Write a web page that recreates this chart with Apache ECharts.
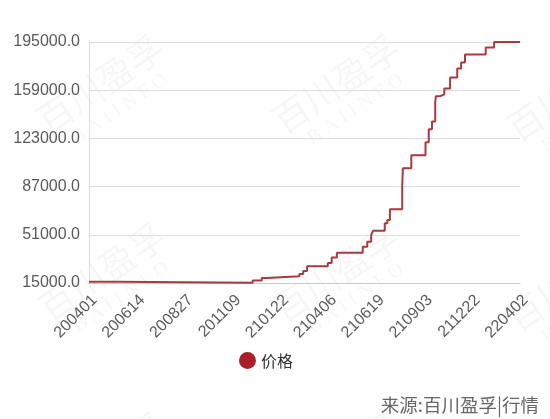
<!DOCTYPE html>
<html>
<head>
<meta charset="utf-8">
<script src="https://cdn.jsdelivr.net/npm/echarts@6/dist/echarts.min.js"></script>
<style>
html,body{margin:0;padding:0;background:#fff;}
#c{width:550px;height:419px;}
</style>
</head>
<body>
<div id="c"></div>
<script>
// x tick labels (dates, YYMMDD) shown every 74 trading-day positions
const tickLabels = ['200401','200614','200827','201109','210122','210406','210619','210903','211222','220402'];
const daysPerTick = 74;
// price change points: trading-day position and new price
const stepDay = [0,43,253,267,275,325,331,337,369,375,383,423,430,436,439,457,461,465,484,485,498,520,525,530,535,536,542,549,558,569,575,581,613,626,666];
const stepPrice = [16000,15200,16900,18800,20000,21700,24000,27500,30000,34000,37600,42000,45800,50800,54000,59700,62000,70100,88000,100700,110400,120100,129800,135700,150000,154500,155900,160300,168500,175200,179700,185700,190900,195000,195000];
const seriesName = '价格';
const sourceText = '来源:百川盈孚|行情';
const yMin = 15000, yMax = 195000, yStep = 36000;

const chart = echarts.init(document.getElementById('c'), null, {renderer:'canvas'});
const font = "'Liberation Sans','Noto Sans CJK SC',sans-serif";
const wm = [];
const wmPos = [[100,84],[336,84],[570,92],[102,272],[336,273],[570,282],[102,462],[336,462]];
const ang = 34 * Math.PI / 180;
wmPos.forEach(p => {
  wm.push({type:'group', x:p[0], y:p[1], rotation:ang, silent:true, z:-10, children:[
    {type:'text', x:0, y:0, style:{text:'百川盈孚', fill:'rgba(0,0,0,0.035)', font:"36px 'Noto Sans CJK SC'", textAlign:'center', textVerticalAlign:'middle'}},
    {type:'text', x:2, y:32, style:{text:'B A I I N F O', fill:'rgba(0,0,0,0.035)', font:"20px 'Liberation Serif'", textAlign:'center', textVerticalAlign:'middle'}}
  ]});
});
wm.push({type:'text', right:11, top:396, style:{text:sourceText, fill:'#666', font:"18.5px 'Noto Sans CJK SC'"}});

chart.setOption({
  animation:false,
  textStyle:{fontFamily:font},
  grid:{left:89, right:30, top:42, bottom:136, containLabel:false},
  legend:{
    data:[seriesName], icon:'circle', itemWidth:17, itemHeight:17, left:234, top:347,
    textStyle:{fontSize:16, color:'#333', fontFamily:"'Noto Sans CJK SC'"}, itemGap:10
  },
  xAxis:{
    type:'value', min:0, max:(tickLabels.length-1)*daysPerTick, interval:daysPerTick,
    axisLine:{show:true, lineStyle:{color:'#ccc', width:1}},
    axisTick:{show:false},
    splitLine:{show:false},
    axisLabel:{rotate:45, fontSize:16, color:'#5a5a5a', margin:9, align:'right', verticalAlign:'top',
      formatter:v => tickLabels[Math.round(v/daysPerTick)] || ''}
  },
  yAxis:{
    type:'value', min:yMin, max:yMax, interval:yStep,
    axisLine:{show:true, lineStyle:{color:'#ddd'}},
    axisTick:{show:false},
    splitLine:{show:true, lineStyle:{color:'#ddd', width:1}},
    axisLabel:{fontSize:16, color:'#5a5a5a', margin:9, formatter:v => v.toFixed(1)}
  },
  series:[{
    name:seriesName, type:'line', step:'end', showSymbol:false,
    data:stepDay.map((d,i)=>[d, stepPrice[i]]),
    itemStyle:{color:'#a8202a'},
    lineStyle:{color:'#a83a40', width:2}
  }],
  graphic:wm
});
</script>
</body>
</html>
